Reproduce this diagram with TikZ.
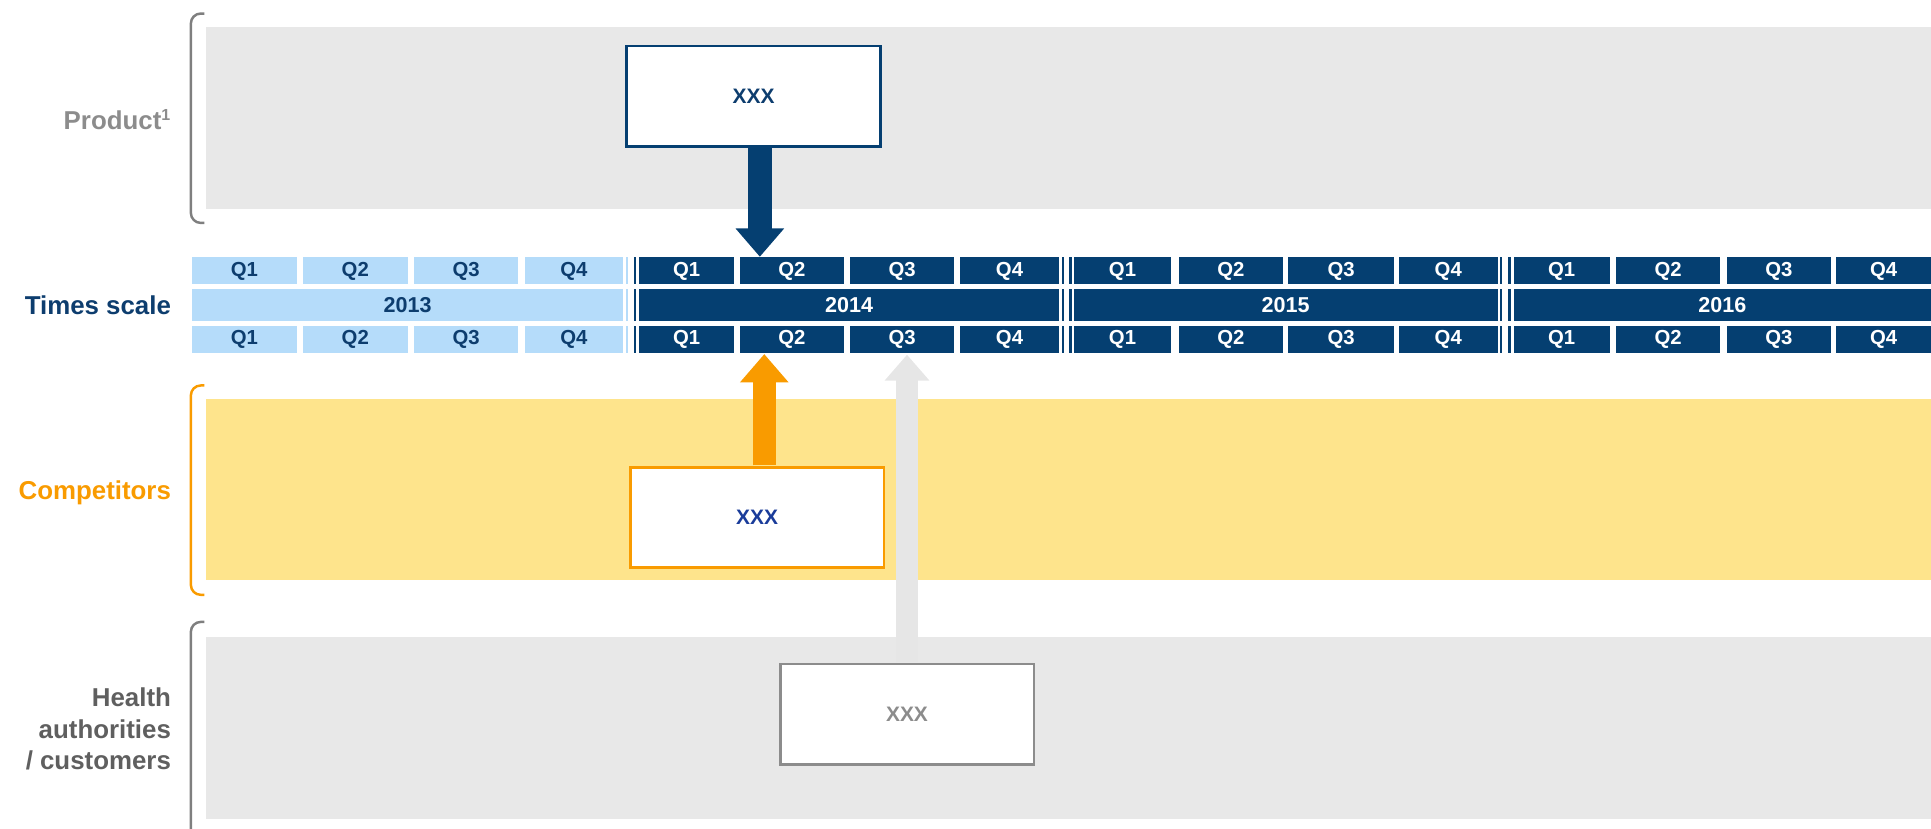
\documentclass[tikz,border=0pt]{standalone}
\usepackage{fontspec}
\setmainfont{Liberation Sans}
\usetikzlibrary{arrows.meta,calc}
\definecolor{navy}{HTML}{053F71}
\definecolor{lightcell}{HTML}{B5DCFA}
\definecolor{celltext}{HTML}{0D3D6E}
\definecolor{bandgray}{HTML}{E8E8E8}
\definecolor{bandyellow}{HTML}{FEE48C}
\definecolor{orng}{HTML}{F99B00}
\definecolor{bracketgray}{HTML}{7F7F7F}
\definecolor{labelgray}{HTML}{8C8C8C}
\definecolor{healthgray}{HTML}{5F5F5F}
\definecolor{boxblue}{HTML}{1A3C9A}
\definecolor{arrowgray}{HTML}{E6E6E6}
\newcommand\tcell[7]{\node[#1, minimum width={(#4-#3)*1pt}, minimum height={(#6-#5)*1pt}] (#2) at ({(#3+#4)/2},{(#5+#6)/2}) {#7};}
\begin{document}
\begin{tikzpicture}[x=1pt,y=-1pt,
  cellbase/.style={inner sep=0pt, outer sep=0pt, font=\bfseries\fontsize{16.5}{16.5}\selectfont},
  lcell/.style={cellbase, fill=lightcell, text=celltext},
  dcell/.style={cellbase, fill=navy, text=white},
  bracket/.style={line width=2pt, rounded corners=8pt},
  rowlabel/.style={anchor=east, inner sep=0pt, font=\bfseries\fontsize{21}{25.5}\selectfont, align=right},
  xbox/.style={fill=white, line width=2.2pt, inner sep=0pt, outer sep=0pt, minimum width=206pt, minimum height=81.5pt, font=\bfseries\fontsize{17}{17}\selectfont},
  fatarrow/.style={line width=19pt, -{Triangle[length=23pt,width=38pt]}},
  thinarrow/.style={line width=17.5pt, -{Triangle[length=21pt,width=35pt]}}
]
\useasboundingbox (0,0) rectangle (1568,673);

% bands
\fill[bandgray] (167,22) rectangle (1568,169.5);
\fill[bandyellow] (167,324) rectangle (1568,471);
\fill[bandgray] (167,517) rectangle (1568,665);

% brackets
\draw[bracket, bracketgray] (166,11) -- (155,11) -- (155,181) -- (166,181);
\draw[bracket, orng] (166,313) -- (155,313) -- (155,483) -- (166,483);
\draw[bracket, bracketgray] (166,505) -- (155,505) -- (155,690) -- (166,690);

% labels
\node[rowlabel, text=labelgray] (lprod) at (139,97) {Product\textsuperscript{\fontsize{13}{13}\selectfont 1}};
\node[rowlabel, text=celltext] (ltime) at (139,248) {Times scale};
\node[rowlabel, text=orng] (lcomp) at (139,400) {Competitors};
\node[rowlabel, text=healthgray] (lhealth) at (139,592) {Health\\authorities\\/ customers};

% timeline
\foreach \n/\sty/\a/\b/\c/\d/\e/\f/\g/\h in {
  2013/lcell/156/241/246/331/336/421/426/506,
  2014/dcell/519/596/600.6/685.6/690/775/779.5/860,
  2015/dcell/872/951/957/1042/1046/1132/1136/1216,
  2016/dcell/1229/1307/1312/1397/1402/1487/1491/1568}{
  \tcell{\sty}{qat\n}{\a}{\b}{209}{231}{Q1}
  \tcell{\sty}{qbt\n}{\c}{\d}{209}{231}{Q2}
  \tcell{\sty}{qct\n}{\e}{\f}{209}{231}{Q3}
  \tcell{\sty}{qdt\n}{\g}{\h}{209}{231}{Q4}
  \tcell{\sty}{yr\n}{\a}{\h}{234.5}{261}{\fontsize{17.5}{17.5}\selectfont\n}
  \tcell{\sty}{qab\n}{\a}{\b}{264.5}{287}{Q1}
  \tcell{\sty}{qbb\n}{\c}{\d}{264.5}{287}{Q2}
  \tcell{\sty}{qcb\n}{\e}{\f}{264.5}{287}{Q3}
  \tcell{\sty}{qdb\n}{\g}{\h}{264.5}{287}{Q4}
}
% year break lines
\foreach \ya/\yb in {209/231,234.5/261,264.5/287}{
  \fill[lightcell] (508.3,\ya) rectangle (509.6,\yb);
  \fill[navy] (514.8,\ya) rectangle (516.5,\yb);
  \fill[navy] (862,\ya) rectangle (863.8,\yb);
  \fill[navy] (868.2,\ya) rectangle (870.2,\yb);
  \fill[navy] (1218,\ya) rectangle (1219.8,\yb);
  \fill[navy] (1224.8,\ya) rectangle (1226.6,\yb);
}

% boxes (positions)
\coordinate (pboxc) at (612,78.2);
\coordinate (cboxc) at (614.8,420.2);
\coordinate (hboxc) at (736.5,579.9);
\coordinate (tipB) at (617,208.5);
\coordinate (tipO) at (620.6,287.5);
\coordinate (tipG) at (736.5,288);

\node[xbox, draw=navy, text=celltext] (pbox) at (pboxc) {XXX};
\node[xbox, draw=orng, text=boxblue] (cbox) at (cboxc) {XXX};
\node[xbox, draw=labelgray, text=labelgray] (hbox) at (hboxc) {XXX};

% arrows
\draw[fatarrow, navy] ([yshift=-1.5pt]pbox.south -| tipB) -- (tipB);
\draw[fatarrow, orng] ([yshift=1.5pt]cbox.north -| tipO) -- (tipO);
\draw[thinarrow, arrowgray] ([yshift=1.5pt]hbox.north -| tipG) -- (tipG);

% redraw boxes on top so borders stay continuous
\node[xbox, draw=navy, text=celltext] at (pboxc) {XXX};
\node[xbox, draw=orng, text=boxblue] at (cboxc) {XXX};
\node[xbox, draw=labelgray, text=labelgray] at (hboxc) {XXX};
\end{tikzpicture}
\end{document}
